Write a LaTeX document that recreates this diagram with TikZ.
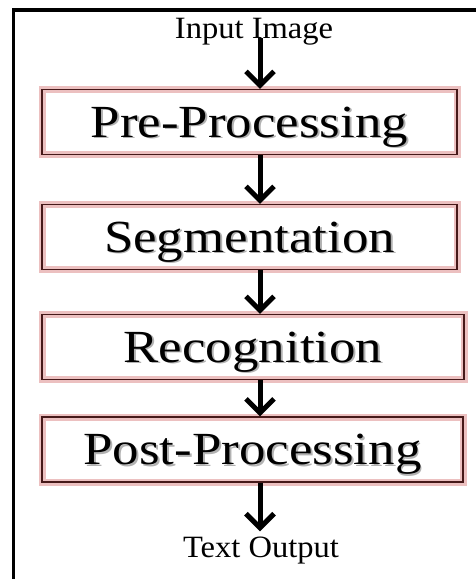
\documentclass[tikz,border=0pt]{standalone}
\usepackage{fontspec}
\setmainfont{Liberation Serif}
\usetikzlibrary{arrows.meta}

\definecolor{glow}{RGB}{224,150,150}
\definecolor{rim}{RGB}{70,25,25}

\newcommand{\stagetext}[1]{\scalebox{1.15}[1]{\rlap{\kern1.6pt\raisebox{-1.6pt}{\textcolor{black!30}{#1}}}#1}}
\newcommand{\iotext}[1]{\scalebox{1.05}[1]{#1}}

\begin{document}
\begin{tikzpicture}[x=1pt,y=-1pt,
    stage/.style={draw=rim, line width=1.3pt, minimum width=#1, minimum height=65pt,
      inner sep=0pt, text height=30pt, text depth=0pt,
      font=\fontsize{46}{46}\selectfont,
      preaction={draw=glow, line width=7pt, opacity=0.6}},
    io/.style={inner sep=0pt, font=\fontsize{31}{31}\selectfont},
    flow/.style={line width=5pt, -{Straight Barb[length=14pt,width=28pt]}},
    frame/.style={line width=3.5pt}]
  \useasboundingbox (0,0) rectangle (476,579);
  \draw [frame] (476,10) -- (13.5,10) -- (13.5,579);

  \node [io, anchor=base] (in) at (254,38) {\iotext{Input Image}};
  \node [stage=415pt] (pre) at (249.5,122) {\stagetext{Pre-Processing}};
  \node [stage=415pt] (seg) at (249.5,237) {\stagetext{Segmentation}};
  \node [stage=422pt] (rec) at (253,347) {\stagetext{Recognition}};
  \node [stage=421pt] (post) at (252.5,449.5) {\stagetext{Post-Processing}};
  \node [io, anchor=base] (out) at (261,557) {\iotext{Text Output}};

  \coordinate (axis) at (260,0);
  \draw [flow] (in.base -| axis) -- (pre.north -| axis);
  \draw [flow] (pre.south -| axis) -- (seg.north -| axis);
  \draw [flow] (seg.south -| axis) -- (rec.north -| axis);
  \draw [flow] (rec.south -| axis) -- (post.north -| axis);
  \draw [flow, shorten >=5pt] (post.south -| axis) -- (out.north -| axis);
\end{tikzpicture}
\end{document}
